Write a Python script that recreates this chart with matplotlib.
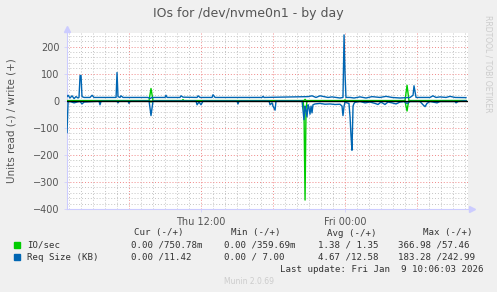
import numpy as np
import matplotlib
matplotlib.use("Agg")
import matplotlib.pyplot as plt

# hours relative to Fri 00:00
io_w_t = [-23.17, -16.33, -16.17, -16.0, -13.58, -13.5, -13.42, -3.42, -3.33, -3.25,
          -0.08, 0.0, 0.08, 5.0, 5.17, 5.33, 10.08]
io_w_v = [0.5, 0.5, 45, 0.5, 0.5, 4, 0.5, 0.5, 5, 0.5,
          0.5, 3, 0.5, 0.5, 57, 0.5, 0.75]

io_r_t = [-23.17, -16.25, -16.17, -16.08, -3.5, -3.42, -3.33, -3.25, -3.17,
          -0.08, 0.0, 0.08, 5.0, 5.08, 5.17, 5.25, 5.33, 10.08]
io_r_v = [-0.3, -0.3, -5, -0.3, -0.3, -30, -367, -30, -2,
          -0.3, -5, -0.3, -0.3, -20, -38, -15, -0.3, 0]

rq_w_t = [-23.17, -23.08, -22.92, -22.75, -22.58, -22.42, -22.25, -22.17, -22.08, -22.0,
          -21.92, -21.75, -21.25, -21.08, -20.92, -19.08, -19.0, -18.92, -18.75, -18.67,
          -18.5, -16.42, -16.25, -16.08, -15.0, -14.92, -14.83, -13.75, -13.67, -13.5,
          -12.33, -12.25, -12.08, -11.08, -11.0, -10.83, -6.92, -6.83, -6.75, -3.08,
          -2.75, -2.42, -2.08, -1.75, -1.42, -1.08, -0.75, -0.42, -0.17, -0.08,
          0.0, 0.08, 0.42, 0.75, 1.25, 1.75, 2.25, 2.92, 3.42, 3.92,
          4.58, 5.42, 5.67, 5.75, 5.92, 7.08, 7.33, 7.58, 7.92, 8.42,
          8.75, 9.17, 10.08]
rq_w_v = [15, 20, 10, 18, 8, 15, 10, 12, 93, 93,
          15, 12, 12, 20, 12, 12, 104, 15, 12, 18,
          12, 12, 8, 12, 12, 20, 12, 12, 18, 13,
          12, 18, 12, 12, 22, 12, 12, 16, 12, 15,
          18, 12, 18, 15, 12, 14, 12, 10, 12, 243,
          100, 12, 12, 10, 14, 10, 15, 12, 16, 12,
          10, 12, 20, 55, 12, 12, 18, 12, 14, 12,
          16, 12, 11.4]

rq_r_t = [-23.17, -23.08, -22.92, -22.58, -22.25, -22.08, -21.92, -21.75, -20.5, -20.42,
          -20.33, -19.0, -18.92, -18.83, -18.08, -18.0, -17.92, -16.33, -16.17, -16.0,
          -12.42, -12.33, -12.17, -12.0, -11.83, -9.0, -8.92, -8.83, -6.33, -6.25,
          -6.08, -6.0, -5.83, -5.75, -3.58, -3.42, -3.33, -3.25, -3.17, -3.08,
          -3.0, -2.92, -2.83, -2.75, -2.67, -2.5, -2.08, -1.67, -1.25, -0.83,
          -0.42, -0.25, -0.17, -0.08, 0.0, 0.17, 0.33, 0.42, 0.5, 0.58,
          0.67, 0.75, 0.83, 1.25, 1.67, 2.08, 2.5, 2.75, 3.0, 3.33,
          3.58, 3.92, 4.25, 4.58, 4.92, 5.17, 5.42, 6.25, 6.5, 6.67,
          6.83, 7.08, 7.67, 7.92, 9.17, 9.25, 9.42, 10.08]
rq_r_v = [-118, -5, -3, -8, -4, -3, -12, -5, -2, -15,
          -2, -2, -8, -2, -2, -10, -2, -1, -55, -1,
          -1, -15, -5, -15, -1, -1, -12, -1, -1, -15,
          -8, -20, -35, -1, -1, -70, -20, -35, -60, -15,
          -25, -50, -20, -45, -15, -12, -10, -13, -12, -14,
          -13, -20, -55, -20, -5, -8, -10, -60, -130, -183,
          -20, -10, -6, -3, -8, -5, -10, -14, -5, -14,
          -5, -8, -12, -5, -3, -10, -3, -3, -15, -22,
          -10, -3, -8, -3, -3, -8, -3, 0]

y_ticks = [-400, -300, -200, -100, 0, 100, 200]
x_ticks = [-12, 0]
x_labels = ["Thu 12:00", "Fri 00:00"]

GREEN = "#00cc00"
BLUE = "#0066b3"
W, H = 497, 292

fig = plt.figure(figsize=(W / 100, H / 100), dpi=100, facecolor="#f0f0f0")
ax = fig.add_axes([67 / W, 1 - 209 / H, 401 / W, 176 / H])
ax.set_facecolor("white")

ax.set_xlim(-23.17, 10.25)
ax.set_ylim(-400, 250)

# grid
for h in np.arange(-23, 11, 1):
    col = "#f08888" if h % 6 == 0 else "#c4c4c4"
    ax.axvline(h, color=col, lw=0.7, ls=(0, (1, 2)), zorder=0)
for v in np.arange(-400, 251, 20):
    col = "#f08888" if v % 100 == 0 else "#c4c4c4"
    ax.axhline(v, color=col, lw=0.7, ls=(0, (1, 2)), zorder=0)

ax.plot(io_r_t, io_r_v, color=GREEN, lw=1, zorder=3)
ax.plot(io_w_t, io_w_v, color=GREEN, lw=1, zorder=3)
ax.plot(rq_r_t, rq_r_v, color=BLUE, lw=1, zorder=4)
ax.plot(rq_w_t, rq_w_v, color=BLUE, lw=1, zorder=4)
ax.axhline(0, color="black", lw=1, zorder=6)

ax.set_yticks(y_ticks)
ax.set_xticks(x_ticks)
ax.set_xticklabels(x_labels)
ax.tick_params(labelsize=7, colors="#555555", length=2, width=0.5)
ax.tick_params(axis="both", color="#ccccff")
for s in ["top", "right"]:
    ax.spines[s].set_visible(False)
for s in ["left", "bottom"]:
    ax.spines[s].set_color("#ccccff")
    ax.spines[s].set_linewidth(0.8)
ax.plot([0], [1.02], marker="^", color="#ccccff", ms=4, transform=ax.transAxes, clip_on=False)
ax.plot([1.01], [0], marker=">", color="#ccccff", ms=4, transform=ax.transAxes, clip_on=False)

ax.set_ylabel("Units read (-) / write (+)", fontsize=7.5, color="#555555", labelpad=12)

fig.text(248 / W, 1 - 13 / H, "IOs for /dev/nvme0n1 - by day", ha="center", va="center",
         fontsize=9, color="#555555")
fig.text(488 / W, 1 - 15 / H, "RRDTOOL / TOBI OETIKER", ha="center", va="top",
         rotation=270, fontsize=5.5, color="#cccccc")

mono = dict(family="DejaVu Sans Mono", fontsize=6.6, color="#333333", va="center")
fy = lambda y: 1 - y / H
for x, s in [(134, "Cur (-/+)"), (231, "Min (-/+)"), (327, "Avg (-/+)"), (423, "Max (-/+)")]:
    fig.text(x / W, fy(233), s, **mono)
rows = [
    (245, GREEN, "IO/sec", ["0.00 /750.78m", "0.00 /359.69m", "1.38 / 1.35", "366.98 /57.46"]),
    (257, BLUE, "Req Size (KB)", ["0.00 /11.42", "0.00 / 7.00", "4.67 /12.58", "183.28 /242.99"]),
]
for y, c, name, vals in rows:
    fig.patches.append(plt.Rectangle((14 / W, fy(y + 3)), 6 / W, 6 / H, color=c,
                                     transform=fig.transFigure, figure=fig))
    fig.text(27 / W, fy(y), name, **mono)
    for x, s in zip([131, 224, 318, 398], vals):
        fig.text(x / W, fy(y), s, **mono)
fig.text(483 / W, fy(269), "Last update: Fri Jan  9 10:06:03 2026", ha="right", **mono)
fig.text(249 / W, fy(281), "Munin 2.0.69", ha="center", va="center", fontsize=5.5, color="#cccccc")

fig.savefig("out.png", dpi=100, facecolor=fig.get_facecolor())
